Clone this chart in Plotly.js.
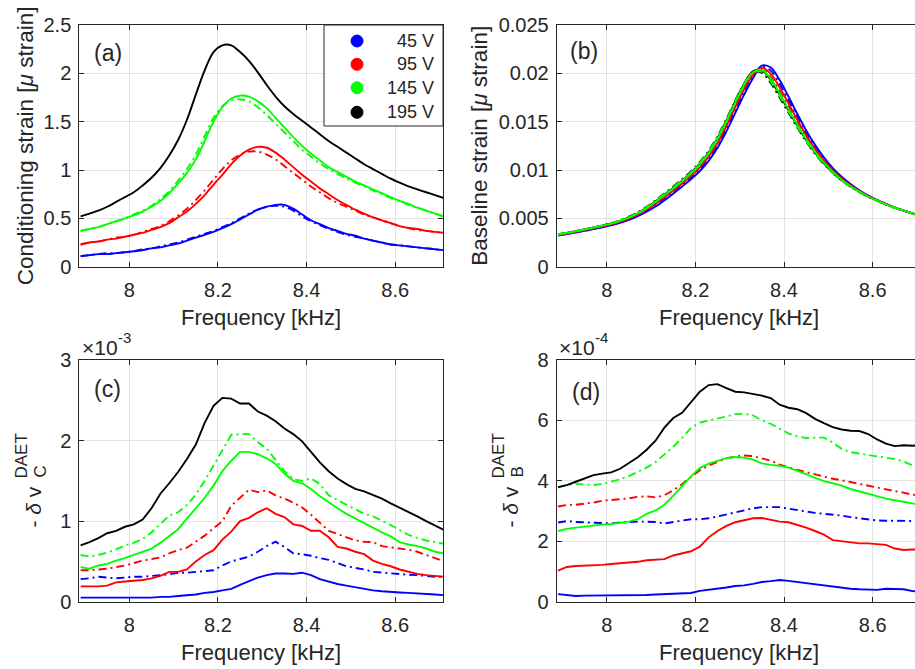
<!DOCTYPE html>
<html><head><meta charset="utf-8">
<script src="https://cdn.plot.ly/plotly-3.0.1.min.js"></script>
<style>html,body{margin:0;padding:0;overflow:hidden;background:#fff}#chart{width:922px;height:669px}</style>
</head><body><div id="chart"></div>
<script>
// ---------- data ----------
const freq = [7.89,7.91,7.93,7.95,7.97,7.99,8.01,8.03,8.05,8.07,8.09,8.11,8.13,8.15,8.17,8.19,8.21,8.23,8.25,8.27,8.29,8.31,8.33,8.35,8.37,8.39,8.41,8.43,8.45,8.47,8.49,8.51,8.53,8.55,8.57,8.59,8.61,8.63,8.65,8.67,8.69,8.71];
const voltLabels = ['45 V','95 V','145 V','195 V'];
const voltColors = ['#0000ff','#ff0000','#00ff00','#000000'];
const xTicks = [8, 8.2, 8.4, 8.6];
const xTickText = ['8','8.2','8.4','8.6'];

// (a) conditioning strain [micro strain]
const aBlue    = [0.11,0.12,0.13,0.13,0.14,0.15,0.16,0.17,0.19,0.20,0.22,0.24,0.27,0.30,0.33,0.36,0.40,0.44,0.49,0.54,0.59,0.62,0.64,0.64,0.60,0.54,0.48,0.44,0.40,0.37,0.34,0.32,0.29,0.27,0.25,0.23,0.22,0.21,0.20,0.19,0.18,0.17];
const aBlueDD  = [0.11,0.12,0.13,0.14,0.14,0.15,0.16,0.18,0.19,0.21,0.23,0.25,0.28,0.31,0.34,0.37,0.41,0.45,0.50,0.55,0.59,0.62,0.63,0.62,0.58,0.52,0.47,0.43,0.39,0.36,0.33,0.31,0.29,0.27,0.25,0.23,0.22,0.21,0.20,0.19,0.18,0.17];
const aRed     = [0.23,0.25,0.26,0.28,0.29,0.31,0.33,0.35,0.38,0.41,0.45,0.51,0.57,0.65,0.74,0.85,0.95,1.06,1.15,1.21,1.24,1.23,1.18,1.11,1.03,0.95,0.88,0.81,0.75,0.69,0.64,0.59,0.55,0.51,0.48,0.45,0.42,0.40,0.39,0.37,0.36,0.35];
const aRedDD   = [0.23,0.25,0.26,0.28,0.30,0.31,0.33,0.36,0.39,0.42,0.47,0.53,0.60,0.69,0.79,0.90,1.01,1.10,1.16,1.19,1.19,1.16,1.11,1.04,0.97,0.90,0.83,0.77,0.71,0.66,0.62,0.58,0.54,0.51,0.48,0.45,0.42,0.40,0.38,0.37,0.36,0.35];
const aGreen   = [0.37,0.39,0.41,0.44,0.47,0.50,0.53,0.57,0.62,0.68,0.76,0.86,0.97,1.11,1.30,1.50,1.65,1.74,1.77,1.76,1.71,1.64,1.54,1.44,1.34,1.25,1.17,1.10,1.03,0.98,0.93,0.88,0.84,0.80,0.76,0.72,0.68,0.65,0.61,0.58,0.55,0.52];
const aGreenDD = [0.37,0.39,0.41,0.44,0.47,0.50,0.54,0.58,0.63,0.70,0.78,0.89,1.01,1.16,1.35,1.54,1.66,1.72,1.73,1.71,1.65,1.57,1.48,1.39,1.30,1.21,1.14,1.07,1.01,0.96,0.91,0.87,0.83,0.79,0.75,0.71,0.68,0.64,0.61,0.58,0.55,0.52];
const aBlack   = [0.52,0.55,0.58,0.62,0.67,0.72,0.77,0.84,0.92,1.02,1.15,1.31,1.52,1.78,2.03,2.22,2.29,2.29,2.22,2.13,2.01,1.88,1.76,1.66,1.58,1.51,1.44,1.37,1.30,1.24,1.18,1.12,1.06,1.01,0.96,0.91,0.87,0.83,0.80,0.77,0.74,0.71];

// (b) baseline strain [micro strain]
const bBlue    = [0.00322,0.00337,0.00353,0.00370,0.00389,0.00408,0.00428,0.00453,0.00484,0.00522,0.00568,0.00622,0.00686,0.00755,0.00830,0.00905,0.00990,0.01095,0.01230,0.01400,0.01590,0.01780,0.01950,0.02080,0.02060,0.01930,0.01760,0.01580,0.01410,0.01260,0.01130,0.01020,0.00930,0.00855,0.00790,0.00735,0.00690,0.00650,0.00612,0.00580,0.00550,0.00522];
const bBlueDD  = [0.00325,0.00340,0.00356,0.00374,0.00393,0.00412,0.00433,0.00458,0.00490,0.00530,0.00578,0.00635,0.00701,0.00770,0.00845,0.00921,0.01009,0.01116,0.01255,0.01428,0.01620,0.01808,0.01968,0.02068,0.02028,0.01892,0.01725,0.01550,0.01385,0.01240,0.01115,0.01009,0.00921,0.00849,0.00786,0.00732,0.00689,0.00649,0.00611,0.00580,0.00550,0.00522];
const bRed     = [0.00328,0.00344,0.00360,0.00378,0.00397,0.00417,0.00438,0.00464,0.00497,0.00538,0.00589,0.00649,0.00716,0.00785,0.00860,0.00938,0.01028,0.01138,0.01280,0.01455,0.01650,0.01835,0.01985,0.02055,0.01995,0.01855,0.01690,0.01520,0.01360,0.01220,0.01100,0.00998,0.00913,0.00843,0.00783,0.00730,0.00688,0.00648,0.00611,0.00580,0.00551,0.00524];
const bRedDD   = [0.00331,0.00347,0.00363,0.00382,0.00401,0.00421,0.00442,0.00469,0.00503,0.00545,0.00600,0.00662,0.00730,0.00800,0.00875,0.00954,0.01046,0.01159,0.01305,0.01482,0.01680,0.01862,0.02002,0.02042,0.01962,0.01818,0.01655,0.01490,0.01335,0.01200,0.01085,0.00986,0.00904,0.00836,0.00779,0.00727,0.00686,0.00646,0.00610,0.00580,0.00551,0.00524];
const bBlack   = [0.00334,0.00350,0.00367,0.00386,0.00405,0.00425,0.00447,0.00475,0.00510,0.00553,0.00610,0.00675,0.00745,0.00815,0.00890,0.00970,0.01065,0.01180,0.01330,0.01510,0.01710,0.01890,0.02020,0.02030,0.01930,0.01780,0.01620,0.01460,0.01310,0.01180,0.01070,0.00975,0.00895,0.00830,0.00775,0.00725,0.00685,0.00645,0.00610,0.00580,0.00552,0.00525];
const bBlackDD = [0.00336,0.00352,0.00369,0.00388,0.00407,0.00428,0.00451,0.00480,0.00517,0.00562,0.00620,0.00687,0.00758,0.00829,0.00905,0.00986,0.01083,0.01200,0.01350,0.01528,0.01722,0.01895,0.02010,0.02005,0.01900,0.01750,0.01595,0.01440,0.01295,0.01168,0.01062,0.00970,0.00891,0.00827,0.00772,0.00722,0.00682,0.00643,0.00608,0.00579,0.00551,0.00524];
const bGreen   = [0.00333,0.00349,0.00366,0.00385,0.00404,0.00424,0.00446,0.00473,0.00508,0.00550,0.00606,0.00670,0.00740,0.00810,0.00884,0.00963,0.01058,0.01172,0.01320,0.01500,0.01698,0.01880,0.02012,0.02036,0.01945,0.01795,0.01632,0.01470,0.01320,0.01188,0.01076,0.00980,0.00899,0.00833,0.00777,0.00726,0.00685,0.00645,0.00610,0.00580,0.00552,0.00525];
const bGreenDD = [0.00335,0.00351,0.00368,0.00387,0.00406,0.00426,0.00449,0.00478,0.00514,0.00558,0.00616,0.00682,0.00752,0.00823,0.00898,0.00978,0.01075,0.01192,0.01342,0.01520,0.01715,0.01890,0.02012,0.02015,0.01915,0.01765,0.01608,0.01450,0.01302,0.01174,0.01066,0.00972,0.00893,0.00828,0.00773,0.00723,0.00683,0.00644,0.00609,0.00580,0.00552,0.00525];

// (c) -dv_C (units of 1e-3)
const cBlue    = [0.05,0.05,0.05,0.05,0.05,0.05,0.05,0.05,0.05,0.06,0.06,0.07,0.08,0.09,0.11,0.12,0.14,0.16,0.21,0.26,0.30,0.33,0.35,0.35,0.345,0.36,0.33,0.28,0.25,0.22,0.20,0.18,0.16,0.14,0.13,0.12,0.115,0.11,0.105,0.10,0.09,0.08];
const cBlueDD  = [0.28,0.29,0.31,0.30,0.29,0.30,0.31,0.31,0.32,0.33,0.34,0.36,0.36,0.37,0.38,0.39,0.45,0.50,0.53,0.56,0.62,0.69,0.745,0.68,0.60,0.59,0.57,0.54,0.52,0.48,0.44,0.42,0.40,0.37,0.36,0.35,0.345,0.335,0.33,0.32,0.31,0.31];
const cRed     = [0.19,0.19,0.19,0.20,0.24,0.25,0.26,0.27,0.29,0.32,0.37,0.37,0.40,0.50,0.58,0.64,0.77,0.87,1.00,1.04,1.11,1.16,1.09,1.05,0.96,0.94,0.88,0.88,0.80,0.68,0.66,0.62,0.59,0.51,0.47,0.44,0.40,0.37,0.345,0.33,0.32,0.31];
const cRedDD   = [0.39,0.39,0.40,0.41,0.43,0.45,0.48,0.51,0.53,0.55,0.60,0.64,0.67,0.74,0.82,0.91,1.00,1.19,1.29,1.39,1.36,1.38,1.32,1.28,1.23,1.17,1.08,0.98,0.88,0.84,0.80,0.76,0.745,0.74,0.69,0.675,0.66,0.645,0.62,0.58,0.54,0.50];
const cGreen   = [0.43,0.41,0.45,0.47,0.51,0.54,0.58,0.62,0.66,0.73,0.81,0.90,1.03,1.16,1.29,1.44,1.62,1.75,1.86,1.86,1.83,1.78,1.71,1.59,1.50,1.47,1.40,1.31,1.23,1.16,1.09,1.03,0.98,0.91,0.86,0.81,0.74,0.71,0.69,0.66,0.62,0.60];
const cGreenDD = [0.58,0.56,0.58,0.61,0.65,0.70,0.73,0.78,0.86,0.96,1.07,1.11,1.20,1.33,1.50,1.69,1.88,2.07,2.08,2.08,1.98,1.90,1.76,1.62,1.52,1.50,1.53,1.46,1.32,1.26,1.20,1.14,1.09,1.06,1.01,0.95,0.89,0.83,0.79,0.76,0.74,0.72];
const cBlack   = [0.70,0.74,0.79,0.85,0.88,0.93,0.96,1.02,1.16,1.34,1.47,1.61,1.77,1.95,2.22,2.43,2.53,2.52,2.46,2.46,2.36,2.31,2.24,2.15,2.08,1.99,1.86,1.73,1.62,1.53,1.46,1.40,1.37,1.33,1.28,1.22,1.17,1.11,1.06,1.00,0.95,0.89];

// (d) -dv_B (units of 1e-4)
const dBlue    = [0.25,0.21,0.19,0.20,0.20,0.21,0.21,0.20,0.20,0.22,0.22,0.24,0.25,0.28,0.28,0.29,0.36,0.39,0.43,0.47,0.52,0.54,0.59,0.65,0.68,0.72,0.69,0.65,0.63,0.59,0.54,0.50,0.46,0.43,0.41,0.40,0.39,0.43,0.42,0.41,0.35,0.33];
const dBlueDD  = [2.62,2.67,2.64,2.63,2.60,2.59,2.59,2.62,2.64,2.65,2.65,2.64,2.59,2.64,2.67,2.73,2.73,2.76,2.82,2.89,2.97,3.03,3.09,3.13,3.14,3.13,3.08,3.03,2.99,2.94,2.91,2.89,2.85,2.80,2.76,2.71,2.69,2.68,2.68,2.68,2.68,2.67];
const dRed     = [1.03,1.15,1.18,1.19,1.21,1.22,1.25,1.27,1.29,1.32,1.37,1.39,1.41,1.53,1.60,1.67,1.82,2.13,2.34,2.51,2.63,2.70,2.76,2.77,2.71,2.65,2.63,2.55,2.45,2.34,2.22,2.04,2.00,1.96,1.93,1.93,1.91,1.88,1.76,1.71,1.73,1.73];
const dRedDD   = [3.15,3.20,3.21,3.24,3.28,3.34,3.37,3.38,3.42,3.47,3.49,3.45,3.52,3.69,3.89,4.13,4.35,4.51,4.64,4.75,4.80,4.84,4.82,4.75,4.67,4.54,4.44,4.36,4.29,4.21,4.14,4.07,4.02,3.96,3.89,3.83,3.76,3.70,3.66,3.61,3.54,3.52];
const dGreen   = [2.34,2.41,2.45,2.49,2.53,2.55,2.57,2.60,2.65,2.73,2.91,3.02,3.21,3.50,3.83,4.15,4.42,4.57,4.66,4.75,4.79,4.77,4.70,4.58,4.53,4.50,4.44,4.34,4.22,4.10,3.99,3.92,3.84,3.73,3.65,3.55,3.47,3.41,3.36,3.31,3.24,3.20];
const dGreenDD = [3.78,3.87,3.90,3.89,3.86,3.90,3.97,4.05,4.16,4.29,4.44,4.62,4.86,5.13,5.42,5.75,5.93,5.99,6.05,6.13,6.21,6.22,6.17,6.00,5.89,5.74,5.57,5.47,5.42,5.43,5.43,5.27,5.06,4.95,4.90,4.85,4.80,4.76,4.72,4.64,4.51,4.45];
const dBlack   = [3.79,3.86,3.97,4.08,4.19,4.24,4.28,4.40,4.60,4.78,5.03,5.33,5.76,6.08,6.25,6.60,6.95,7.17,7.20,7.07,6.95,6.93,6.88,6.82,6.74,6.52,6.42,6.37,6.24,6.05,5.91,5.78,5.70,5.66,5.65,5.55,5.37,5.23,5.15,5.18,5.16,5.19];

// ---------- layout helpers ----------
const W = 922, H = 669;
const PX = x => x / W, PY = y => 1 - y / H;
const FONT = '"Liberation Sans", Arial, Helvetica, sans-serif';
const TXT = '#262626';
const DASHDOT = '8px,4px,2px,4px';

function tr(y, color, dd, n, name, smooth) {
  return {
    type: 'scatter', mode: 'lines', x: freq, y: y, name: name, showlegend: false,
    xaxis: 'x' + (n === 1 ? '' : n), yaxis: 'y' + (n === 1 ? '' : n),
    line: {color: color, width: 1.9, dash: dd ? DASHDOT : 'solid', shape: smooth ? 'spline' : 'linear'},
    hoverinfo: 'skip'
  };
}
const [cB, cR, cG, cK] = voltColors;
const traces = [
  tr(aBlue, cB, false, 1, voltLabels[0], true), tr(aBlueDD, cB, true, 1, voltLabels[0], true),
  tr(aRed, cR, false, 1, voltLabels[1], true), tr(aRedDD, cR, true, 1, voltLabels[1], true),
  tr(aGreen, cG, false, 1, voltLabels[2], true), tr(aGreenDD, cG, true, 1, voltLabels[2], true),
  tr(aBlack, cK, false, 1, voltLabels[3], true),

  tr(bBlack, cK, false, 2, voltLabels[3], true), tr(bBlackDD, cK, true, 2, voltLabels[3], true),
  tr(bBlue, cB, false, 2, voltLabels[0], true), tr(bBlueDD, cB, true, 2, voltLabels[0], true),
  tr(bRed, cR, false, 2, voltLabels[1], true), tr(bRedDD, cR, true, 2, voltLabels[1], true),
  tr(bGreen, cG, false, 2, voltLabels[2], true), tr(bGreenDD, cG, true, 2, voltLabels[2], true),

  tr(cBlue, cB, false, 3, voltLabels[0]), tr(cBlueDD, cB, true, 3, voltLabels[0]),
  tr(cRed, cR, false, 3, voltLabels[1]), tr(cRedDD, cR, true, 3, voltLabels[1]),
  tr(cGreen, cG, false, 3, voltLabels[2]), tr(cGreenDD, cG, true, 3, voltLabels[2]),
  tr(cBlack, cK, false, 3, voltLabels[3]),

  tr(dBlue, cB, false, 4, voltLabels[0]), tr(dBlueDD, cB, true, 4, voltLabels[0]),
  tr(dRed, cR, false, 4, voltLabels[1]), tr(dRedDD, cR, true, 4, voltLabels[1]),
  tr(dGreen, cG, false, 4, voltLabels[2]), tr(dGreenDD, cG, true, 4, voltLabels[2]),
  tr(dBlack, cK, false, 4, voltLabels[3])
];

// plot boxes in pixels
const LX = [79.3, 443.0], RX = [556.7, 920.5];
const TY = [25.0, 266.7], BY = [360.0, 601.7];
const XRANGE = [7.887, 8.708];

function axBase(extra) {
  return Object.assign({
    showline: true, mirror: 'ticks', linecolor: TXT, linewidth: 1,
    ticks: 'inside', ticklen: 5, tickwidth: 1, tickcolor: TXT,
    showgrid: true, gridcolor: '#e2e2e2', gridwidth: 1, zeroline: false,
    tickfont: {family: FONT, size: 20, color: TXT}, fixedrange: true
  }, extra);
}
function xa(box, anchor) {
  return axBase({domain: [PX(box[0]), PX(box[1])], range: XRANGE, tickvals: xTicks, ticktext: xTickText, anchor: anchor, ticklabelstandoff: 5});
}
function ya(box, range, vals, anchor) {
  return axBase({domain: [PY(box[1]), PY(box[0])], range: range, tickvals: vals, anchor: anchor, ticklabelstandoff: 3});
}

const ann = [];
function A(text, x, y, size, opts) {
  ann.push(Object.assign({text: text, x: PX(x), y: PY(y), xref: 'paper', yref: 'paper', showarrow: false,
    xanchor: 'center', yanchor: 'middle', font: {family: FONT, size: size, color: TXT}}, opts || {}));
}
// panel labels
A('(a)', 108, 53, 23); A('(b)', 583.5, 51, 23); A('(c)', 107.3, 389, 23); A('(d)', 586, 391.7, 23);
// x titles
A('Frequency [kHz]', 261.2, 317.5, 22); A('Frequency [kHz]', 738.6, 317.5, 22);
A('Frequency [kHz]', 261.2, 652.5, 22); A('Frequency [kHz]', 738.6, 652.5, 22);
// y titles
A('Conditioning strain [<i>μ</i> strain]', 25, 146.3, 22.5, {textangle: -90});
A('Baseline strain [<i>μ</i> strain]', 480, 145.8, 22.5, {textangle: -90});
A('- <i>δ</i> v', 32.6, 507, 21, {textangle: -90});
A('DAET', 20.5, 456, 17, {textangle: -90});
A('C', 39.5, 472, 17, {textangle: -90});
A('- <i>δ</i> v', 509.5, 507, 21, {textangle: -90});
A('DAET', 497.5, 456, 17, {textangle: -90});
A('B', 516.5, 472, 17, {textangle: -90});
// exponent labels (base and raised exponent as separate texts)
A('×10', 80, 348, 21, {xanchor: 'left'});
A('-3', 116, 337, 15, {xanchor: 'left'});
A('×10', 557, 348, 21, {xanchor: 'left'});
A('-4', 593, 337, 15, {xanchor: 'left'});

// legend (box, colored circles, right-aligned labels)
const shapes = [{type: 'rect', xref: 'paper', yref: 'paper', x0: PX(324), x1: PX(443), y0: PY(126), y1: PY(25),
  fillcolor: '#ffffff', line: {color: TXT, width: 1}, layer: 'above'}];
const rowY = [41, 64.3, 87.7, 112.3];
voltLabels.forEach((lab, i) => {
  shapes.push({type: 'circle', xref: 'paper', yref: 'paper', xsizemode: 'pixel', ysizemode: 'pixel',
    xanchor: PX(357), yanchor: PY(rowY[i]), x0: -6, x1: 6, y0: -6, y1: 6,
    fillcolor: voltColors[i], line: {color: voltColors[i], width: 1}, layer: 'above'});
  A(lab, 436, rowY[i], 18, {xanchor: 'right'});
});

const layout = {
  width: W, height: H, margin: {l: 0, r: 0, t: 0, b: 0},
  paper_bgcolor: '#ffffff', plot_bgcolor: '#ffffff', showlegend: false,
  font: {family: FONT, color: TXT},
  xaxis:  xa(LX, 'y'),  yaxis:  ya(TY, [0, 2.5], [0, 0.5, 1, 1.5, 2, 2.5], 'x'),
  xaxis2: xa(RX, 'y2'), yaxis2: ya(TY, [0, 0.025], [0, 0.005, 0.01, 0.015, 0.02, 0.025], 'x2'),
  xaxis3: xa(LX, 'y3'), yaxis3: ya(BY, [0, 3], [0, 1, 2, 3], 'x3'),
  xaxis4: xa(RX, 'y4'), yaxis4: ya(BY, [0, 8], [0, 2, 4, 6, 8], 'x4'),
  annotations: ann, shapes: shapes
};
Plotly.newPlot('chart', traces, layout, {staticPlot: true, displayModeBar: false});
</script>
</body></html>
